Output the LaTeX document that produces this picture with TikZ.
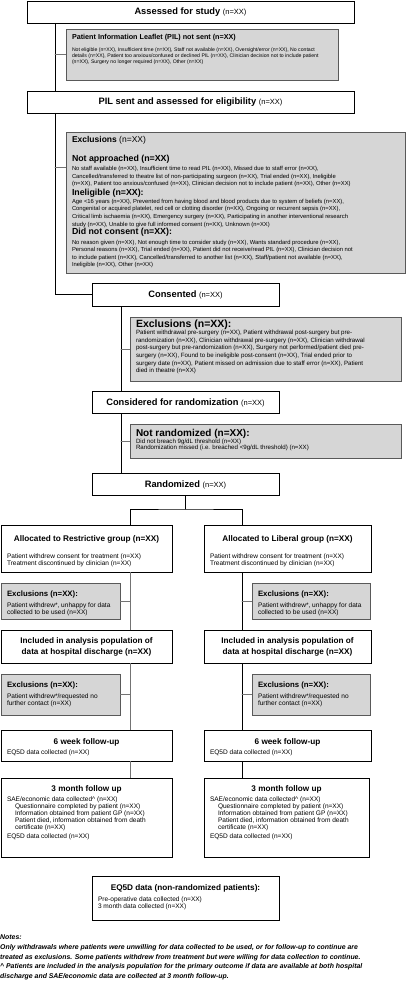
\documentclass[tikz,border=0pt]{standalone}
\usepackage{fontspec}
\setmainfont{Liberation Sans}
\usepackage{tikz}

\begin{document}
\begin{tikzpicture}
	[x=1pt,y=-1pt,line cap=round,
	%Styles
	stage/.style={draw=black,line width=0.8pt,fill=white,inner xsep=6pt,inner ysep=0pt,align=flush center,font=\fontsize{9.3}{11}\selectfont\bfseries},
	exclusion/.style={draw=exclborder,line width=0.8pt,fill=exclfill,inner xsep=6pt,inner ysep=0pt,align=flush left},
	arm/.style={draw=black,line width=0.8pt,fill=white,inner xsep=6pt,inner ysep=0pt,align=flush left,font=\fontsize{6.55}{6.8}\selectfont},
	boxsize/.style n args={3}{text width=#1,text height=#2,text depth=#3},
	flow/.style={line width=0.8pt},
	branch/.style={line width=0.8pt,draw=branchgray},
	notes/.style={inner sep=0pt,anchor=north west,align=flush left,text width=406pt,font=\fontsize{6.9}{9.6}\selectfont\bfseries\itshape}
	]
	\useasboundingbox (0,0) rectangle (406,992);
	
	%Colors
	\colorlet{exclfill}{black!16}		%exclusion boxes
	\colorlet{exclborder}{black!65}
	\colorlet{branchgray}{black!55}
	
	%Screening
	\node[stage,boxsize={315pt}{14pt}{8pt}] (assess) at (190.5,12) {Assessed for study {\mdseries\fontsize{7.5}{9}\selectfont(n=XX)}};
	\node[exclusion,boxsize={260pt}{11pt}{40pt}] (notsent) at (202,54.5) {%
		{\fontsize{7.2}{8}\selectfont\bfseries Patient Information Leaflet (PIL) not sent (n=XX)\par}
		\vspace{6pt}
		{\fontsize{5.15}{6}\selectfont Not eligible (n=XX), Insufficient time (n=XX), Staff not available (n=XX), Oversight/error (n=XX), No contact\\
		details (n=XX), Patient too anxious/confused or declined PIL (n=XX), Clinician decision not to include patient\\
		(n=XX), Surgery no longer required (n=XX), Other (n=XX)\par}};
	\node[stage,boxsize={315pt}{14pt}{8pt}] (pilsent) at (190.5,102) {PIL sent and assessed for eligibility {\mdseries\fontsize{7.5}{9}\selectfont(n=XX)}};
	\node[exclusion,boxsize={327pt}{11pt}{130pt}] (exclElig) at (235.5,202.5) {%
		{\fontsize{8.5}{9.5}\selectfont\textbf{Exclusions} (n=XX)\par}
		\vspace{9pt}
		{\fontsize{8.8}{9.5}\selectfont\bfseries Not approached (n=XX)\par}
		\vspace{1.4pt}
		{\fontsize{5.85}{7.6}\selectfont No staff available (n=XX), Insufficient time to read PIL (n=XX), Missed due to staff error (n=XX),\\
		Cancelled/transferred to theatre list of non-participating surgeon (n=XX), Trial ended (n=XX), Ineligible\\
		(n=XX), Patient too anxious/confused (n=XX), Clinician decision not to include patient (n=XX), Other (n=XX)\par}
		{\fontsize{8.8}{10}\selectfont\bfseries Ineligible (n=XX):\par}
		{\fontsize{5.85}{7.6}\selectfont Age <16 years (n=XX), Prevented from having blood and blood products due to system of beliefs (n=XX),\\
		Congenital or acquired platelet, red cell or clotting disorder (n=XX), Ongoing or recurrent sepsis (n=XX),\\
		Critical limb ischaemia (n=XX), Emergency surgery (n=XX), Participating in another interventional research\\
		study (n=XX), Unable to give full informed consent (n=XX), Unknown (n=XX)\par}
		{\fontsize{8.8}{8.5}\selectfont\bfseries Did not consent (n=XX):\par}
		\vspace{2pt}
		{\fontsize{5.85}{7.6}\selectfont No reason given (n=XX), Not enough time to consider study (n=XX), Wants standard procedure (n=XX),\\
		Personal reasons (n=XX), Trial ended (n=XX), Patient did not receive/read PIL (n=XX), Clinician decision not\\
		to include patient (n=XX), Cancelled/transferred to another list (n=XX), Staff/patient not available (n=XX),\\
		Ineligible (n=XX), Other (n=XX)\par}};
	
	%Consent and randomization
	\node[stage,boxsize={175pt}{14.5pt}{8.5pt}] (consent) at (185.5,294.5) {Consented {\mdseries\fontsize{7.5}{9}\selectfont(n=XX)}};
	\node[exclusion,boxsize={259pt}{10pt}{54pt}] (exclConsent) at (265.5,349) {%
		{\fontsize{10.5}{11}\selectfont\bfseries Exclusions (n=XX):\par}
		{\fontsize{6.15}{7.6}\selectfont Patient withdrawal pre-surgery (n=XX), Patient withdrawal post-surgery but pre-\\
		randomization (n=XX), Clinician withdrawal pre-surgery (n=XX), Clinician withdrawal\\
		post-surgery but pre-randomization (n=XX), Surgery not performed/patient died pre-\\
		surgery (n=XX), Found to be ineligible post-consent (n=XX), Trial ended prior to\\
		surgery date (n=XX), Patient missed on admission due to staff error (n=XX), Patient\\
		died in theatre (n=XX)\par}};
	\node[stage,boxsize={175pt}{14pt}{8pt}] (considered) at (185.5,402) {Considered for randomization {\mdseries\fontsize{7.5}{9}\selectfont(n=XX)}};
	\node[exclusion,boxsize={259pt}{12.5pt}{21.5pt}] (notrand) at (265.5,441) {%
		{\fontsize{10}{11}\selectfont\bfseries Not randomized (n=XX):\par}
		{\fontsize{6.15}{6.6}\selectfont Did not breach 9g/dL threshold (n=XX)\\
		Randomization missed (i.e. breached <9g/dL threshold) (n=XX)\par}};
	\node[stage,boxsize={175pt}{14pt}{8pt}] (random) at (185.5,484) {Randomized {\mdseries\fontsize{7.5}{9}\selectfont(n=XX)}};
	
	%Restrictive arm
	\node[arm,boxsize={159pt}{16pt}{31pt}] (allocR) at (86.5,548.5) {%
		{\centering\fontsize{8.2}{9}\selectfont\bfseries Allocated to Restrictive group (n=XX)\par}
		\vspace{11pt}
		Patient withdrew consent for treatment (n=XX)\\
		Treatment discontinued by clinician (n=XX)};
	\node[exclusion,boxsize={107pt}{13pt}{23pt},font=\fontsize{6.55}{6.8}\selectfont] (exclR1) at (60.5,601) {%
		{\fontsize{7.8}{9}\selectfont\bfseries Exclusions (n=XX):\par}
		\vspace{5pt}
		Patient withdrew*, unhappy for data\\
		collected to be used (n=XX)};
	\node[arm,boxsize={159pt}{13.5pt}{19.5pt}] (inclR) at (86.5,646.5) {%
		{\centering\fontsize{8.2}{11}\selectfont\bfseries Included in analysis population of\\
		data at hospital discharge (n=XX)\par}};
	\node[exclusion,boxsize={107pt}{13pt}{28pt},font=\fontsize{6.55}{6.8}\selectfont] (exclR2) at (60.5,694.5) {%
		{\fontsize{7.8}{9}\selectfont\bfseries Exclusions (n=XX):\par}
		\vspace{5pt}
		Patient withdrew*/requested no\\
		further contact (n=XX)};
	\node[arm,boxsize={159pt}{14pt}{17pt}] (sixR) at (86.5,745.5) {%
		{\centering\fontsize{8.2}{9}\selectfont\bfseries 6 week follow-up\par}
		\vspace{4pt}
		EQ5D data collected (n=XX)};
	\node[arm,boxsize={159pt}{13pt}{66pt}] (threeR) at (86.5,817.5) {%
		{\centering\fontsize{8.2}{9}\selectfont\bfseries 3 month follow up\par}
		\vspace{4pt}
		SAE/economic data collected\textasciicircum{} (n=XX)\par
		{\leftskip=8pt Questionnaire completed by patient (n=XX)\\
		Information obtained from patient GP (n=XX)\\
		Patient died, information obtained from death\\
		certificate (n=XX)\par}
		\vspace{3pt}
		EQ5D data collected (n=XX)};
	
	%Liberal arm
	\node[arm,boxsize={155pt}{16pt}{31pt}] (allocL) at (287.5,548.5) {%
		{\centering\fontsize{8.2}{9}\selectfont\bfseries Allocated to Liberal group (n=XX)\par}
		\vspace{11pt}
		Patient withdrew consent for treatment (n=XX)\\
		Treatment discontinued by clinician (n=XX)};
	\node[exclusion,boxsize={106pt}{13pt}{23pt},font=\fontsize{6.55}{6.8}\selectfont] (exclL1) at (311,601) {%
		{\fontsize{7.8}{9}\selectfont\bfseries Exclusions (n=XX):\par}
		\vspace{5pt}
		Patient withdrew*, unhappy for data\\
		collected to be used (n=XX)};
	\node[arm,boxsize={155pt}{13.5pt}{19.5pt}] (inclL) at (287.5,646.5) {%
		{\centering\fontsize{8.2}{11}\selectfont\bfseries Included in analysis population of\\
		data at hospital discharge (n=XX)\par}};
	\node[exclusion,boxsize={106pt}{13pt}{28pt},font=\fontsize{6.55}{6.8}\selectfont] (exclL2) at (311,694.5) {%
		{\fontsize{7.8}{9}\selectfont\bfseries Exclusions (n=XX):\par}
		\vspace{5pt}
		Patient withdrew*/requested no\\
		further contact (n=XX)};
	\node[arm,boxsize={155pt}{14pt}{17pt}] (sixL) at (287.5,745.5) {%
		{\centering\fontsize{8.2}{9}\selectfont\bfseries 6 week follow-up\par}
		\vspace{4pt}
		EQ5D data collected (n=XX)};
	\node[arm,boxsize={153pt}{13pt}{66pt}] (threeL) at (286.5,817.5) {%
		{\centering\fontsize{8.2}{9}\selectfont\bfseries 3 month follow up\par}
		\vspace{4pt}
		SAE/economic data collected\textasciicircum{} (n=XX)\par
		{\leftskip=8pt Questionnaire completed by patient (n=XX)\\
		Information obtained from patient GP (n=XX)\\
		Patient died, information obtained from death\\
		certificate (n=XX)\par}
		\vspace{3pt}
		EQ5D data collected (n=XX)};
	
	%Non-randomized
	\node[arm,boxsize={175pt}{14pt}{30pt}] (eqfive) at (185.5,898) {%
		{\centering\fontsize{8.2}{9}\selectfont\bfseries EQ5D data (non-randomized patients):\par}
		\vspace{5pt}
		Pre-operative data collected (n=XX)\\
		3 month data collected (n=XX)};
	
	\node[notes] (notes) at (0,935) {Notes:\\
		* Only withdrawals where patients were unwilling for data collected to be used, or for follow-up to continue are\\
		treated as exclusions. Some patients withdrew from treatment but were willing for data collection to continue.\\
		\textasciicircum{} Patients are included in the analysis population for the primary outcome if data are available at both hospital\\
		discharge and SAE/economic data are collected at 3 month follow-up.};
	
	%Connectors
	\coordinate (spineA) at (55,0);
	\coordinate (spineB) at (121,0);
	\coordinate (armR) at (130,0);
	\coordinate (armL) at (242,0);
	\coordinate (split) at (185.5,509);
	\coordinate (exclEligIn) at ([yshift=-36pt]exclElig.north west);
	
	\draw[flow] (spineA |- assess.south) -- (spineA |- pilsent.north);
	\draw[branch] (spineA |- notsent.west) -- (notsent.west);
	\draw[flow] (spineA |- pilsent.south) |- (consent.west);
	\draw[branch] (spineA |- exclEligIn) -- (exclEligIn);
	
	\draw[flow] (spineB |- consent.south) -- (spineB |- considered.north);
	\draw[branch] (spineB |- exclConsent.west) -- (exclConsent.west);
	\draw[flow] (spineB |- considered.south) -- (spineB |- random.north);
	\draw[branch] (spineB |- notrand.west) -- (notrand.west);
	
	\draw[flow] (random.south) -- (split);
	\draw[flow] (armR |- allocR.north) |- (split) -| (armL |- allocL.north);
	
	\foreach \a/\b/\c in {allocR/inclR/exclR1,inclR/sixR/exclR2}
	{
		\draw[branch] (armR |- \a.south) -- (armR |- \b.north);
		\draw[branch] (armR |- \c.east) -- (\c.east);
	}
	\draw[branch] (armR |- sixR.south) -- (armR |- threeR.north);
	\foreach \a/\b/\c in {allocL/inclL/exclL1,inclL/sixL/exclL2}
	{
		\draw[flow] (armL |- \a.south) -- (armL |- \b.north);
		\draw[branch] (armL |- \c.west) -- (\c.west);
	}
	\draw[flow] (armL |- sixL.south) -- (armL |- threeL.north);
\end{tikzpicture}
\end{document}
